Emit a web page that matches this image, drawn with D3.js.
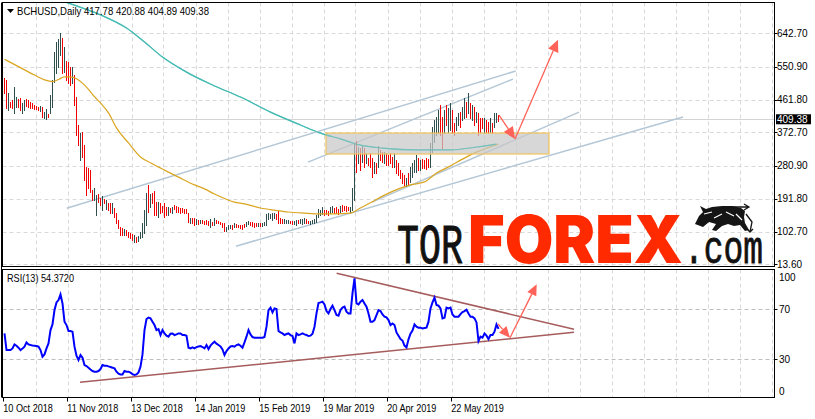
<!DOCTYPE html>
<html><head><meta charset="utf-8">
<script src="https://cdn.jsdelivr.net/npm/d3@7/dist/d3.min.js"></script>
<style>
body{margin:0;background:#fff}
svg{display:block}
text{font-family:"Liberation Sans",Arial,sans-serif;fill:#000}
</style></head><body>
<svg id="c" width="815" height="419"></svg>
<script>
// ---------------- DATA ----------------
const symbolTitle = "BCHUSD,Daily";
const lastOHLC = [417.78, 420.88, 404.89, 409.38];
const lastPrice = 409.38;
const rsiPeriod = 13, rsiLast = "54.3720";
const dateLabels = ["10 Oct 2018","11 Nov 2018","13 Dec 2018","14 Jan 2019","15 Feb 2019","19 Mar 2019","20 Apr 2019","22 May 2019"];
const dateIndex = [0,32,64,96,128,160,192,224];
const priceTicks = [642.70,550.90,461.80,372.70,280.90,191.80,102.70,13.60];
const rsiTicks = [100,70,30,0];
const rsiLevels = [70,30];

const highs = [521,516,480,456,461,496,469,464,466,453,
461,464,461,456,453,447,445,442,445,442,
428,437,423,475,516,592,619,627,644,630,
605,567,565,551,551,529,469,393,371,374,
339,279,276,270,216,221,202,205,194,200,
191,189,181,181,181,167,153,134,115,112,
110,107,102,99,96,93,88,91,102,126,
161,208,230,205,208,213,183,183,181,172,
181,170,170,167,170,175,172,170,167,167,
164,164,153,140,140,140,137,134,134,134,
131,134,131,137,129,140,134,131,129,126,
126,115,121,121,121,126,123,121,121,121,
123,129,131,129,129,126,126,126,126,126,
129,151,153,151,153,153,151,159,140,137,
137,134,134,131,131,131,134,134,137,137,
140,137,131,131,134,137,148,164,162,170,
162,162,159,170,172,167,170,164,172,175,
172,172,170,170,221,344,349,333,330,336,
330,317,303,317,303,292,290,336,325,319,
319,317,311,317,306,317,298,290,270,262,
257,249,262,279,290,298,311,303,298,300,
298,303,300,344,388,407,415,434,448,415,
434,448,439,453,434,398,415,426,428,442,
467,456,480,453,448,442,428,426,412,412,
412,407,401,412,398,426,426,421];

const lows = [480,439,434,442,439,426,442,442,434,426,
434,445,442,439,439,437,437,434,431,415,
412,409,415,426,442,510,535,551,584,535,
537,516,507,502,507,448,366,339,298,306,
243,202,221,210,189,189,148,183,175,162,
181,164,162,153,153,142,126,112,93,93,
93,93,88,85,80,74,74,77,85,88,
99,121,156,170,181,148,148,142,153,156,
142,148,148,156,153,164,156,156,153,156,
153,153,129,126,126,121,123,123,126,126,
123,123,121,115,121,121,126,126,123,115,
104,104,110,113,110,115,115,115,113,110,
115,118,123,121,118,115,118,118,118,118,
121,121,137,140,134,140,137,126,126,126,
126,126,126,126,123,123,121,126,126,123,
126,126,126,123,126,126,129,142,148,151,
148,151,148,153,156,153,153,151,156,159,
162,159,162,156,162,189,265,289,270,292,
278,290,284,279,251,262,262,279,298,292,
290,284,284,290,279,279,262,257,249,235,
229,227,229,238,251,265,265,270,270,276,
276,273,279,279,319,347,366,371,366,330,
371,393,374,379,371,366,379,393,388,407,
412,415,426,412,407,393,401,366,374,385,
371,374,371,374,371,388,401,405];

const upBars = [0,0,1,0,0,1,1,0,0,1,
1,0,0,0,0,0,0,0,1,0,
1,1,0,1,1,1,1,1,1,0,
1,0,0,0,1,0,0,0,1,0,
0,0,0,0,0,1,1,0,0,1,
0,1,0,0,1,0,0,0,0,0,
1,0,0,0,0,1,0,1,1,1,
1,1,0,1,0,0,0,1,0,0,
0,0,1,0,1,0,0,0,0,0,
0,0,0,1,0,0,1,0,1,0,
0,0,0,1,0,1,0,0,0,0,
0,1,1,1,0,1,0,0,0,0,
0,1,1,0,0,0,0,1,0,1,
1,1,1,1,1,1,0,0,0,0,
1,1,1,0,0,1,1,0,1,1,
1,0,0,1,1,1,1,1,1,1,
0,0,0,1,1,0,0,0,1,0,
0,0,0,1,1,1,0,1,0,1,
0,1,0,0,0,1,0,1,0,0,
1,0,0,0,0,1,0,0,0,0,
0,1,0,1,1,1,1,0,1,0,
0,0,0,1,1,1,1,1,0,0,
1,0,1,1,0,0,1,1,0,1,
1,0,1,0,1,0,1,0,0,0,
1,0,0,1,0,1,1,0];

const rsiValues = [50.7,37.4,37.4,37.4,38.7,41.9,40.9,39.3,37.4,38.7,
40.1,43.5,41.9,41.4,41.1,40.9,40.6,40.1,37.4,32.1,
33.9,38.7,42.7,53.4,57.9,69.4,75.5,77.4,81.9,74.7,
60.1,57.4,52.6,52.6,52.1,40.1,32.9,29.4,33.4,31.3,
25.4,24.6,23.3,21.9,20.6,20.1,20.1,20.6,22.2,25.4,
24.9,24.9,24.3,23.8,23.3,22.7,20.1,18.5,17.9,17.9,
20.6,20.1,20.1,19.3,18.2,17.4,17.9,19.5,24.1,33.9,
53.4,62.2,63.3,62.7,60.1,57.4,53.4,54.2,49.4,53.4,
50.7,48.9,48.1,50.5,50.7,49.4,49.9,50.7,50.7,49.4,
49.4,48.9,39.3,38.7,39.5,38.7,39.8,40.3,40.6,39.8,
38.7,41.4,38.2,40.9,42.7,44.1,42.5,41.4,40.3,37.9,
33.4,36.6,38.7,40.3,40.6,40.1,41.4,41.9,40.9,39.3,
43.5,48.1,53.4,49.9,47.8,47.3,47.3,47.3,47.3,47.3,
47.8,56.1,69.4,71.3,67.5,70.7,70.2,52.6,51.5,50.7,
49.4,50.2,50.7,49.4,48.6,42.7,50.7,49.4,49.9,50.7,
49.9,49.4,48.6,48.9,50.5,56.1,66.7,75.0,75.5,76.1,
73.9,68.6,66.7,70.2,72.9,69.4,65.4,64.9,69.4,71.3,
72.1,68.1,66.7,66.7,82.7,94.7,74.7,73.9,76.1,77.4,
74.7,72.1,66.7,60.1,60.1,61.4,65.4,69.4,68.6,65.9,
64.1,63.5,61.4,57.4,58.7,57.4,51.5,48.9,46.2,45.0,
41.0,39.5,46.0,50.5,52.9,57.9,56.1,55.3,55.3,54.7,
55.0,55.3,60.1,70.7,75.5,79.3,73.4,72.9,70.7,62.7,
63.3,71.3,70.7,71.3,65.9,64.1,64.1,64.1,66.2,67.8,
68.6,69.7,66.7,64.1,64.1,62.7,59.5,44.6,48.1,47.3,
50.7,48.9,46.2,49.4,49.4,52.1,57.9,54.4];

// moving averages (bar index, price)
const maFastIdx = [0,7,15,20,24,27,30,33,36,39,42,45,48,52,56,62,68,73,80,87,95,100,105,115,120,128,135,142,150,158,165,173,177,183,190,197,203,210,216,222,229,235,241,247];
const maFastVal = [572,552,529,516,511,517,524,524,519,507,490,470,453,426,385,344,306,290,270,251,230,219,205,183,178,167,161,156,153,151,151,153,164,181,202,219,230,238,262,279,300,317,330,341];
const maSlowIdx = [28,32,48,61,70,79,91,104,118,133,148,158,168,178,189,206,223,236,246];
const maSlowVal = [733,725,693,657,619,578,537,502,469,428,393,371,355,338,330,325,325,333,341];

// drawn objects in data coordinates [idx1, price1, idx2, price2]
const trendLines = [[31.1,166,255.6,540],[151.75,292,254.25,518],[115.75,63,339.25,415],[183.75,183,287.25,428]];
const zoneBox = [160.75, 272.25, 371, 314];
const priceArrows = [[247.25,420,255.25,355],[255.25,355,276.75,625]];
const rsiLines = [[166.1,98.8,284.75,54],[37.75,11.6,284.75,51.6]];
const rsiArrows = [[246.75,58.2,252.75,47.3],[252.75,47.3,266.1,90]];

// ---------------- LAYOUT ----------------
const svg = d3.select("#c");
const L = 2.5, R = 774.5, mTop = 2.5, mBot = 266.5, rTop = 269.5, rBot = 397.5;
const x = d3.scaleLinear().domain([0, 247]).range([4.5, 498.5]);
const y = d3.scaleLinear().domain([13.6, 642.7]).range([264.3, 33.3]);
const yr = d3.scaleLinear().domain([0, 100]).range([396.8, 271.8]);

const defs = svg.append("defs");
defs.append("clipPath").attr("id","cm").append("rect").attr("x",L).attr("y",mTop).attr("width",R-L).attr("height",mBot-mTop);
defs.append("clipPath").attr("id","cr").append("rect").attr("x",L).attr("y",rTop).attr("width",R-L).attr("height",rBot-rTop);

const gm = svg.append("g").attr("clip-path","url(#cm)");
const gr = svg.append("g").attr("clip-path","url(#cr)");

// grid
const gridColor = "#d9d9d9";
const vgrid = d3.range(15.5, 400, 16);
[[gm,mTop,mBot],[gr,rTop,rBot]].forEach(([g,t,b])=>{
  g.selectAll(null).data(vgrid).join("line")
    .attr("x1",d=>Math.round(x(d))+0.5).attr("x2",d=>Math.round(x(d))+0.5)
    .attr("y1",t).attr("y2",b).attr("stroke",gridColor).attr("stroke-dasharray","4,3");
});
gm.selectAll(null).data(priceTicks).join("line")
  .attr("x1",L).attr("x2",R).attr("y1",d=>Math.round(y(d))+0.5).attr("y2",d=>Math.round(y(d))+0.5)
  .attr("stroke",gridColor).attr("stroke-dasharray","4,3");
gr.selectAll(null).data(rsiLevels).join("line")
  .attr("x1",L).attr("x2",R).attr("y1",d=>Math.round(yr(d))+0.5).attr("y2",d=>Math.round(yr(d))+0.5)
  .attr("stroke","#bdbdbd").attr("stroke-dasharray","4,3");

// current price line
gm.append("line").attr("x1",L).attr("x2",R)
  .attr("y1",Math.round(y(lastPrice))+0.5).attr("y2",Math.round(y(lastPrice))+0.5)
  .attr("stroke","#d4d4d4");

// moving averages
const maLine = d3.line().x(d=>x(d[0])).y(d=>y(d[1])).curve(d3.curveMonotoneX);
gm.append("path").attr("d",maLine(maSlowIdx.map((d,i)=>[d,maSlowVal[i]])))
  .attr("fill","none").attr("stroke","#20b2aa").attr("stroke-width",1.2);

// trend lines
gm.selectAll(null).data(trendLines).join("line")
  .attr("x1",d=>x(d[0])).attr("y1",d=>y(d[1])).attr("x2",d=>x(d[2])).attr("y2",d=>y(d[3]))
  .attr("stroke","#b4c7d6").attr("stroke-width",1.5);

// bars
const barData = highs.map((h,i)=>({i,h,l:lows[i],up:upBars[i]}));
gm.selectAll(null).data(barData).join("line")
  .attr("x1",d=>x(d.i)).attr("x2",d=>x(d.i))
  .attr("y1",d=>Math.round(y(d.h))).attr("y2",d=>Math.round(y(d.l))+1)
  .attr("stroke",d=>d.up? "#2f4f4f" : "#f00000").attr("stroke-width",1)
  .attr("shape-rendering","crispEdges");

gm.append("path").attr("d",maLine(maFastIdx.map((d,i)=>[d,maFastVal[i]])))
  .attr("fill","none").attr("stroke","#daa520").attr("stroke-width",1.2);

// zone rectangle
gm.append("rect").attr("x",x(zoneBox[0])).attr("y",y(zoneBox[2]))
  .attr("width",x(zoneBox[1])-x(zoneBox[0])).attr("height",y(zoneBox[3])-y(zoneBox[2]))
  .attr("fill","#c8c8c8").attr("fill-opacity",0.72).attr("stroke","#f2c35a").attr("stroke-width",1.2);
gm.append("path").attr("d",maLine(maSlowIdx.map((d,i)=>[d,maSlowVal[i]])))
  .attr("fill","none").attr("stroke","#5fc0b8").attr("stroke-width",1.2).attr("stroke-opacity",0.6);

// arrows
function arrow(g, x1,y1,x2,y2, color, len, w, sw){
  const a = Math.atan2(y2-y1, x2-x1);
  const bx = x2 - len*Math.cos(a), by = y2 - len*Math.sin(a);
  g.append("line").attr("x1",x1).attr("y1",y1).attr("x2",bx).attr("y2",by)
    .attr("stroke",color).attr("stroke-width",sw);
  const px = -Math.sin(a)*w/2, py = Math.cos(a)*w/2;
  g.append("polygon").attr("points",[[x2,y2],[bx+px,by+py],[bx-px,by-py]].map(p=>p.join(",")).join(" "))
    .attr("fill",color);
}
priceArrows.forEach(d=>arrow(gm, x(d[0]),y(d[1]),x(d[2]),y(d[3]), "#ff6258", 12, 11, 1.3));

// RSI
gr.selectAll(null).data(rsiLines).join("line")
  .attr("x1",d=>x(d[0])).attr("y1",d=>yr(d[1])).attr("x2",d=>x(d[2])).attr("y2",d=>yr(d[3]))
  .attr("stroke","#a65c5c").attr("stroke-width",1.6);
gr.append("path").attr("d",d3.line().x((d,i)=>x(i)).y(d=>yr(d))(rsiValues))
  .attr("fill","none").attr("stroke","#0000ff").attr("stroke-width",2);
rsiArrows.forEach(d=>arrow(gr, x(d[0]),yr(d[1]),x(d[2]),yr(d[3]), "#ff6258", 11, 10, 1.3));

// frames
svg.append("rect").attr("x",L).attr("y",mTop).attr("width",R-L).attr("height",mBot-mTop)
  .attr("fill","none").attr("stroke","#000");
svg.append("rect").attr("x",L).attr("y",rTop).attr("width",R-L).attr("height",rBot-rTop)
  .attr("fill","none").attr("stroke","#000");
svg.append("line").attr("x1",1.5).attr("x2",1.5).attr("y1",mTop).attr("y2",rBot).attr("stroke","#000");

function squeeze(sel, f){ sel.each(function(){ const n=this.getComputedTextLength(); d3.select(this).attr("textLength",n*f).attr("lengthAdjust","spacingAndGlyphs"); }); }

// price axis
const pa = svg.append("g");
pa.selectAll(null).data(priceTicks).join("line")
  .attr("x1",R).attr("x2",R+3).attr("y1",d=>Math.round(y(d))+0.5).attr("y2",d=>Math.round(y(d))+0.5).attr("stroke","#000");
pa.selectAll(null).data(priceTicks).join("text")
  .attr("x",777).attr("y",d=>y(d)+3.3).attr("font-size",10).text(d=>d.toFixed(2));
pa.append("rect").attr("x",776).attr("y",y(lastPrice)-4.7).attr("width",35).attr("height",10).attr("fill","#000");
pa.append("text").attr("x",777).attr("y",y(lastPrice)+3.7).attr("font-size",10).style("fill","#fff").text(lastPrice.toFixed(2));

// RSI axis
const ra = svg.append("g");
ra.selectAll(null).data(rsiTicks).join("text")
  .attr("x",779).attr("y",d=> yr(d) + 3.6 + (d===100?5.8:d===0?-5:0)).attr("font-size",10).text(d=>d);
ra.selectAll(null).data(rsiLevels).join("line")
  .attr("x1",R).attr("x2",R+3).attr("y1",d=>Math.round(yr(d))+0.5).attr("y2",d=>Math.round(yr(d))+0.5).attr("stroke","#000");

// date axis
const da = svg.append("g");
da.selectAll(null).data(dateIndex).join("line")
  .attr("x1",d=>Math.round(x(d)-1.5)+0.5).attr("x2",d=>Math.round(x(d)-1.5)+0.5)
  .attr("y1",rBot).attr("y2",rBot+4).attr("stroke","#000");
da.selectAll(null).data(dateIndex).join("text")
  .attr("x",d=>x(d)-1.2).attr("y",411.5).attr("font-size",10).text((d,i)=>dateLabels[i])
  .call(squeeze, 0.91);

// headers
svg.append("polygon").attr("points","7,9 14,9 10.5,13").attr("fill","#000");
svg.append("text").attr("x",17).attr("y",15.3).attr("font-size",10.5)
  .text(symbolTitle + "  " + lastOHLC.map(v=>v.toFixed(2)).join(" "))
  .attr("textLength",192).attr("lengthAdjust","spacingAndGlyphs");
svg.append("text").attr("x",7).attr("y",282).attr("font-size",10.5)
  .text("RSI(" + rsiPeriod + ") " + rsiLast)
  .attr("textLength",67).attr("lengthAdjust","spacingAndGlyphs");

// logo: fitted with transforms so the box of each word matches
const lg = svg.append("g");
function fitWord(str, x0, base, w, size, family, weight, color, sw){
  const t = lg.append("text").attr("x",0).attr("y",0).attr("font-size",size)
    .style("font-family",family).style("font-weight",weight).style("fill",color).text(str);
  if (sw) t.attr("stroke",color).attr("stroke-width",sw);
  const n = t.node().getComputedTextLength();
  t.attr("transform",`translate(${x0},${base}) scale(${w/n},1)`);
}
fitWord("TOR", 397, 263, 66, 55, "'Liberation Mono','Courier New',monospace", 400, "#111", 1.0);
fitWord("FOREX", 468, 263, 215, 66, "Inter,Lato,'Open Sans',sans-serif", 900, "#ff2a00", 0);
fitWord(".com", 684, 263, 79, 46, "'Liberation Mono','Courier New',monospace", 400, "#111", 0.8);
// bull icon
lg.append("path").attr("d","M695,224 L699,216 L703,212 L700,206 L706,209 L712,207 L722,206 L732,206 L741,208 L745,211 L744,217 L745,223 L749,230 L745,231 L740,225 L734,226 L728,224 L722,226 L716,231 L712,230 L716,224 L709,222 L703,227 Z")
  .attr("fill","#151515");
lg.append("path").attr("d","M704,214 L712,212 M714,218 L722,214 M726,212 L734,216 M736,214 L742,220")
  .attr("stroke","#fff").attr("stroke-width",1.2).attr("fill","none");
lg.append("path").attr("d","M730,207 L749,207 M744,204 L749,207 L744,210 M746,214 L752,222 L750,232 M747,229 L750,232 L753,229")
  .attr("stroke","#151515").attr("stroke-width",1.3).attr("fill","none");
</script></body></html>
